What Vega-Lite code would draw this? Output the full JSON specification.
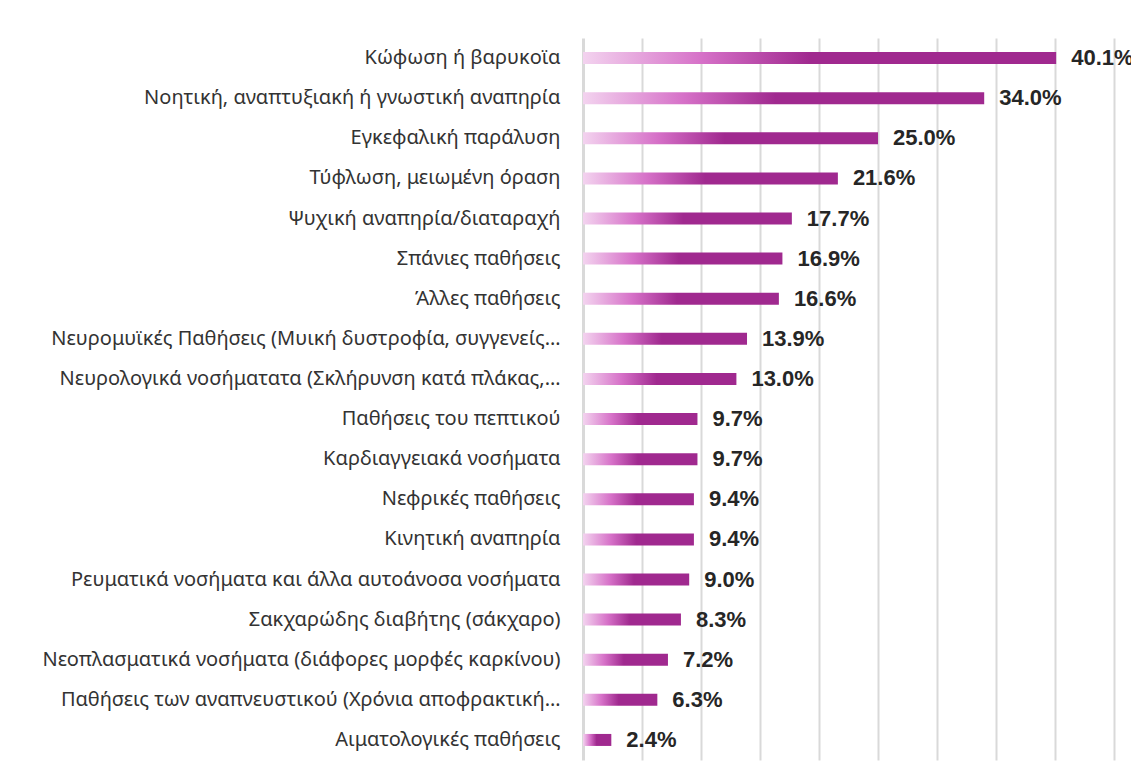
{
  "$schema": "https://vega.github.io/schema/vega-lite/v6.json",
  "autosize": {"type": "none"},
  "padding": {"left": 583, "top": 38, "right": 17, "bottom": 20},
  "width": 531,
  "height": 722,
  "background": "white",
  "config": {"view": {"stroke": null}},
  "data": {
    "values": [
      {"cat": "Κώφωση ή βαρυκοϊα", "v": 0.401},
      {"cat": "Νοητική, αναπτυξιακή ή γνωστική αναπηρία", "v": 0.340},
      {"cat": "Εγκεφαλική παράλυση", "v": 0.250},
      {"cat": "Τύφλωση, μειωμένη όραση", "v": 0.216},
      {"cat": "Ψυχική αναπηρία/διαταραχή", "v": 0.177},
      {"cat": "Σπάνιες παθήσεις", "v": 0.169},
      {"cat": "Άλλες παθήσεις", "v": 0.166},
      {"cat": "Νευρομυϊκές Παθήσεις (Μυική δυστροφία, συγγενείς…", "v": 0.139},
      {"cat": "Νευρολογικά νοσήματατα (Σκλήρυνση κατά πλάκας,…", "v": 0.130},
      {"cat": "Παθήσεις του πεπτικού", "v": 0.097},
      {"cat": "Καρδιαγγειακά νοσήματα", "v": 0.097},
      {"cat": "Νεφρικές παθήσεις", "v": 0.094},
      {"cat": "Κινητική αναπηρία", "v": 0.094},
      {"cat": "Ρευματικά νοσήματα και άλλα αυτοάνοσα νοσήματα", "v": 0.090},
      {"cat": "Σακχαρώδης διαβήτης (σάκχαρο)", "v": 0.083},
      {"cat": "Νεοπλασματικά νοσήματα (διάφορες μορφές καρκίνου)", "v": 0.072},
      {"cat": "Παθήσεις των αναπνευστικού (Χρόνια αποφρακτική…", "v": 0.063},
      {"cat": "Αιματολογικές παθήσεις", "v": 0.024}
    ]
  },
  "encoding": {
    "y": {
      "field": "cat",
      "type": "nominal",
      "sort": null,
      "axis": {
        "title": null,
        "ticks": false,
        "domain": true,
        "domainColor": "#d9d9d9",
        "domainWidth": 3,
        "labelFont": "Noto Sans",
        "labelFontSize": 20,
        "labelColor": "#333333",
        "labelPadding": 23,
        "labelLimit": 600
      }
    },
    "x": {
      "field": "v",
      "type": "quantitative",
      "scale": {"domain": [0, 0.45], "nice": false},
      "axis": {
        "title": null,
        "labels": false,
        "ticks": false,
        "domain": false,
        "grid": true,
        "gridColor": "#d9d9d9",
        "gridWidth": 2,
        "values": [0.05, 0.1, 0.15, 0.2, 0.25, 0.3, 0.35, 0.4, 0.45]
      }
    }
  },
  "layer": [
    {
      "mark": {
        "type": "bar",
        "size": 12,
        "color": {
          "gradient": "linear",
          "x1": 0, "y1": 0, "x2": 1, "y2": 0,
          "stops": [
            {"offset": 0, "color": "#f3d3ef"},
            {"offset": 0.25, "color": "#d671c8"},
            {"offset": 0.48, "color": "#a0298f"},
            {"offset": 1, "color": "#a0298f"}
          ]
        }
      }
    },
    {
      "mark": {
        "type": "text",
        "align": "left",
        "baseline": "middle",
        "dx": 15,
        "font": "Liberation Sans",
        "fontSize": 22,
        "fontWeight": "bold",
        "color": "#262626"
      },
      "encoding": {
        "text": {"field": "v", "type": "quantitative", "format": ".1%"}
      }
    }
  ]
}
